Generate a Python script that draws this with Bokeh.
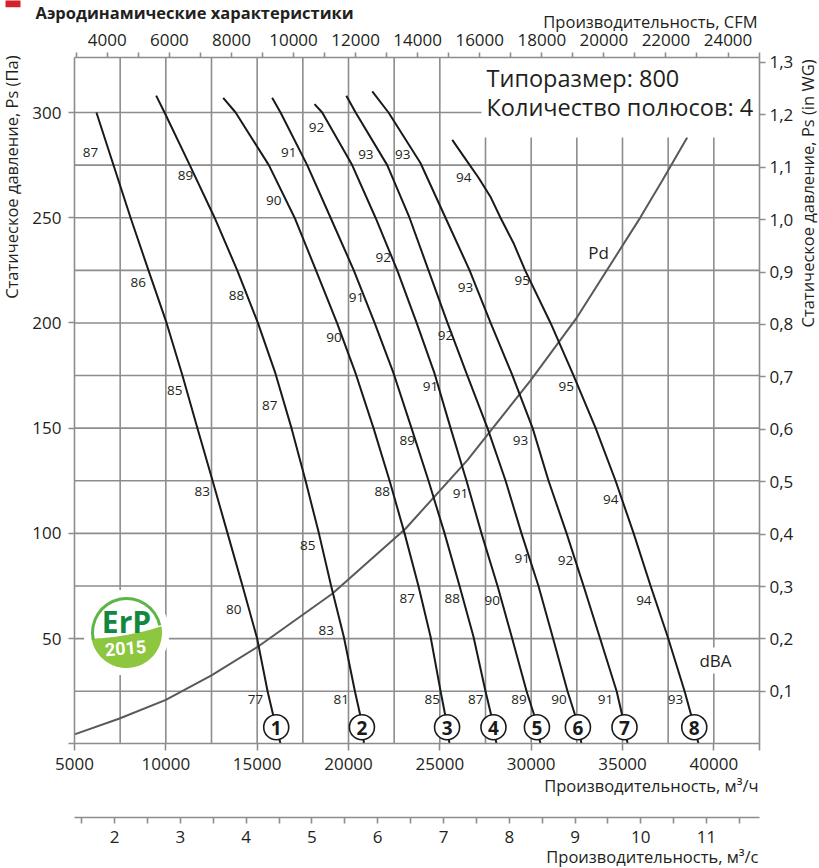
import numpy as np
from bokeh.plotting import figure
from bokeh.models import Range1d, LinearAxis, FixedTicker, Label
from bokeh.core.properties import value
from bokeh.embed import file_html
from bokeh.resources import INLINE

# ---------------- data ----------------
flow_ticks = [5000, 10000, 15000, 20000, 25000, 30000, 35000, 40000, 42500]
flow_grid = [7500, 10000, 12500, 15000, 17500, 20000, 22500, 25000, 27500,
             30000, 32500, 35000, 37500, 40000]
pa_ticks = [0, 50, 100, 150, 200, 250, 300]
pa_grid = [25, 50, 75, 100, 125, 150, 175, 200, 225, 250, 275, 300]
cfm_ticks = [4000, 6000, 8000, 10000, 12000, 14000, 16000, 18000, 20000, 22000, 24000]
cfm_minor = [3000, 5000, 7000, 9000, 11000, 13000, 15000, 17000, 19000, 21000, 23000, 25000]
m3s_ticks = [2, 3, 4, 5, 6, 7, 8, 9, 10, 11]
m3s_minor = [1.5, 2.5, 3.5, 4.5, 5.5, 6.5, 7.5, 8.5, 9.5, 10.5, 11.5]
inwg_ticks = [0.1, 0.2, 0.3, 0.4, 0.5, 0.6, 0.7, 0.8, 0.9, 1.0, 1.1, 1.2, 1.3]
inwg_labels = ["0,1", "0,2", "0,3", "0,4", "0,5", "0,6", "0,7", "0,8", "0,9",
               "1,0", "1,1", "1,2", "1,3"]

c1_flow = [6200, 8070, 9050, 10040, 10910, 11730, 12560, 13380, 14200, 15000, 15570, 15920, 16280]
c1_pa = [300, 250, 225, 200, 175, 150, 125, 100, 75, 50, 25, 12, 0]
c2_flow = [9470, 9930, 11310, 12670, 13910, 15040, 16000, 16880, 17650, 18380, 19050, 19740, 20350, 20660, 20850]
c2_pa = [308, 300, 275, 250, 225, 200, 176, 150, 125, 100, 75, 51, 25, 13, 0]
c3_flow = [13140, 13820, 15640, 17050, 18220, 19370, 20390, 21370, 22250, 23070, 23830, 24490, 25040, 25310, 25530]
c3_pa = [307, 300, 275, 250, 225, 200, 176, 150, 125, 100, 75, 51, 25, 13, 0]
c4_flow = [15820, 16280, 17740, 19020, 20290, 21430, 22470, 23450, 24380, 25260, 26080, 26840, 27500, 27830, 28100]
c4_pa = [307, 300, 275, 250, 225, 200, 176, 150, 125, 100, 75, 51, 25, 13, 0]
c5_flow = [18140, 18560, 20200, 21480, 22670, 23730, 24710, 25590, 26460, 27280, 28160, 28930, 29750, 30190, 30510]
c5_pa = [304, 300, 275, 250, 225, 200, 176, 150, 125, 100, 75, 51, 25, 13, 0]
c6_flow = [19880, 20390, 22120, 23340, 24380, 25420, 26460, 27610, 28600, 29470, 30400, 31170, 31990, 32430, 32760]
c6_pa = [308, 300, 275, 250, 225, 200, 176, 150, 125, 100, 75, 51, 25, 13, 0]
c7_flow = [21300, 22190, 23940, 25310, 26630, 27780, 28930, 30080, 30950, 31940, 32870, 33740, 34680, 35000, 35280]
c7_pa = [310, 300, 276, 250, 225, 200, 176, 150, 125, 100, 75, 51, 25, 13, 0]
c8_flow = [25680, 26400, 27120, 27770, 28320, 29030, 29670, 31060, 32270, 33530, 34620, 35610, 36540, 37470, 38400, 38780, 39160]
c8_pa = [287, 278, 269, 260, 250, 238, 225, 200, 176, 150, 125, 100, 75, 51, 25, 13, 0]

pd_flow = [5000, 7430, 10000, 12500, 15000, 19110, 23120, 26500, 29970, 32520, 35990, 37180, 38550]
pd_pa = [4.5, 11.9, 20.9, 32.5, 45.9, 71.3, 102.2, 134.7, 172.7, 202.8, 250.3, 267.7, 288.3]

# dBA values along the curves (flow, pressure, level)
c1_db_flow = [5880, 8490, 10490, 11990, 13720, 14910]
c1_db_pa = [281, 219, 168, 120, 64, 21]
c1_db = ["87", "86", "85", "83", "80", "77"]
c2_db_flow = [11080, 13870, 15690, 17770, 18780, 19600]
c2_db_pa = [270, 213, 161, 94, 54, 21]
c2_db = ["89", "88", "87", "85", "83", "81"]
c3_db_flow = [15910, 19200, 21850, 23220, 24580]
c3_db_pa = [258, 193, 120, 69, 21]
c3_db = ["90", "90", "88", "87", "85"]
c4_db_flow = [16730, 20440, 23220, 25680, 26960]
c4_db_pa = [281, 212, 144, 69, 21]
c4_db = ["91", "91", "89", "88", "87"]
c5_db_flow = [18250, 21900, 24490, 26130, 27870, 29330]
c5_db_pa = [293, 231, 170, 119, 68, 21]
c5_db = ["92", "92", "91", "91", "90", "89"]
c6_db_flow = [20950, 25310, 29510, 31520]
c6_db_pa = [280, 194, 88, 21]
c6_db = ["93", "92", "91", "90"]
c7_db_flow = [22970, 26410, 29420, 31880, 34070]
c7_db_pa = [280, 217, 144, 87, 21]
c7_db = ["93", "93", "93", "92", "91"]
c8_db_flow = [26310, 29510, 31920, 34350, 36170, 37900]
c8_db_pa = [269, 220, 170, 116, 68, 21]
c8_db = ["94", "95", "95", "94", "94", "93"]

curve_ids = ["1", "2", "3", "4", "5", "6", "7", "8"]
marker_pa = 7.9

# ---------------- layout constants ----------------
GRID = "#8d8d8d"
INK = "#231f20"
FONT = "Open Sans"
X0, X1 = 5000, 42500          # plotted flow span (m3/h)
Y0, Y1 = 0, 326               # plotted pressure span (Pa)
W, H = 819, 868               # canvas
PX_L, PX_R = 74, 759          # canvas x of X0, X1
PX_B, PX_T = 743.3, 57.3      # canvas y of Y0, Y1
M3H_PER_CFM = 1.69901
PA_PER_INWG = 249.089
SX = (X1 - X0) / (PX_R - PX_L)
SY = (Y1 - Y0) / (PX_B - PX_T)


def fx(px):
    return X0 + (px - PX_L) * SX


def fy(py):
    return Y0 + (PX_B - py) * SY


XR = (fx(0), fx(W))
YR = (fy(H), fy(0))

p = figure(x_range=Range1d(*XR), y_range=Range1d(*YR), width=W, height=H,
           min_border=0, min_border_left=0, min_border_right=0,
           min_border_top=0, min_border_bottom=0,
           output_backend="svg", toolbar_location=None, title=None)
p.outline_line_color = None
p.background_fill_color = "white"
p.border_fill_color = "white"
p.xgrid.visible = False
p.ygrid.visible = False

p.extra_x_ranges = {"cfm": Range1d(XR[0] / M3H_PER_CFM, XR[1] / M3H_PER_CFM),
                    "m3s": Range1d(XR[0] / 3600, XR[1] / 3600)}
p.extra_y_ranges = {"inwg": Range1d(YR[0] / PA_PER_INWG, YR[1] / PA_PER_INWG)}


def style(ax, tick_out, standoff):
    ax.axis_line_color = GRID
    ax.axis_line_width = 1.6
    ax.major_tick_line_color = GRID
    ax.major_tick_line_width = 1.6
    ax.minor_tick_line_color = GRID
    ax.minor_tick_line_width = 1.6
    ax.major_tick_in = 0
    ax.minor_tick_in = 0
    ax.major_tick_out = tick_out
    ax.minor_tick_out = tick_out
    ax.major_label_standoff = standoff
    ax.major_label_text_font = FONT
    ax.major_label_text_font_size = "17px"
    ax.major_label_text_color = INK


xb = p.below[0]
xb.ticker = FixedTicker(ticks=flow_ticks, minor_ticks=[])
xb.major_label_overrides = {42500: ""}
xb.fixed_location = Y0
xb.bounds = (X0, X1)
style(xb, 7, 7)

yl = p.left[0]
yl.ticker = FixedTicker(ticks=pa_ticks, minor_ticks=[])
yl.major_label_overrides = {0: ""}
yl.fixed_location = X0
yl.bounds = (Y0, Y1)
style(yl, 6, 7)

xt = LinearAxis(x_range_name="cfm", fixed_location=Y1,
                bounds=(X0 / M3H_PER_CFM, X1 / M3H_PER_CFM))
xt.ticker = FixedTicker(ticks=cfm_ticks, minor_ticks=cfm_minor)
style(xt, 5, 7)
p.add_layout(xt, "above")

yr = LinearAxis(y_range_name="inwg", fixed_location=X1,
                bounds=(Y0 / PA_PER_INWG, Y1 / PA_PER_INWG))
yr.ticker = FixedTicker(ticks=inwg_ticks, minor_ticks=[])
yr.major_label_overrides = dict(zip(inwg_ticks, inwg_labels))
style(yr, 6, 4)
p.add_layout(yr, "right")

xs = LinearAxis(x_range_name="m3s", fixed_location=fy(817),
                bounds=(X0 / 3600, X1 / 3600))
xs.ticker = FixedTicker(ticks=m3s_ticks, minor_ticks=m3s_minor)
style(xs, 6, 7)
p.add_layout(xs, "below")

# grid lines inside the plotting area
p.segment(x0=flow_grid, y0=[Y0] * len(flow_grid), x1=flow_grid, y1=[Y1] * len(flow_grid),
          line_color=GRID, line_width=1.6)
p.segment(x0=[X0] * len(pa_grid), y0=pa_grid, x1=[X1] * len(pa_grid), y1=pa_grid,
          line_color=GRID, line_width=1.6)

# ---------------- ErP logo ----------------
lx, ly = fx(126), fy(632)
R = 35.5
p.scatter([lx], [ly], marker="circle", size=86, fill_color="white", line_color=None)
ang = np.radians(np.linspace(190, 370, 60))
arc_x = R * np.cos(ang)
arc_y = R * np.sin(ang)
t = np.linspace(0, 1, 30)
p0 = np.array([arc_x[-1], arc_y[-1]])
p2 = np.array([arc_x[0], arc_y[0]])
c = np.array([0.0, -5.0])
bz_x = (1 - t) ** 2 * p0[0] + 2 * (1 - t) * t * c[0] + t ** 2 * p2[0]
bz_y = (1 - t) ** 2 * p0[1] + 2 * (1 - t) * t * c[1] + t ** 2 * p2[1]
leaf_x = lx + np.concatenate([arc_x, bz_x]) * SX
leaf_y = ly + np.concatenate([arc_y, bz_y]) * SY
p.patch(leaf_x, leaf_y, fill_color="#8dc63f", line_color=None)
p.annular_wedge(x=[lx], y=[ly], inner_radius=R - 3, outer_radius=R,
                inner_radius_units="screen", outer_radius_units="screen",
                start_angle=np.radians(12), end_angle=np.radians(192),
                fill_color="#5cb646", line_color=None)
p.text(x=[fx(126)], y=[fy(621)], text=["ErP"], text_font=value(FONT),
       text_font_style="bold", text_font_size="30px", text_color="#13873f",
       text_align="center", text_baseline="middle")
p.text(x=[fx(125)], y=[fy(647.5)], text=["2015"], text_font=value("Roboto"),
       text_font_style="bold", text_font_size="18px", text_color="white", angle=0.08,
       text_align="center", text_baseline="middle")

# ---------------- curves ----------------
curves = [(c1_flow, c1_pa), (c2_flow, c2_pa), (c3_flow, c3_pa), (c4_flow, c4_pa),
          (c5_flow, c5_pa), (c6_flow, c6_pa), (c7_flow, c7_pa), (c8_flow, c8_pa)]
db_sets = [(c1_db_flow, c1_db_pa, c1_db), (c2_db_flow, c2_db_pa, c2_db),
           (c3_db_flow, c3_db_pa, c3_db), (c4_db_flow, c4_db_pa, c4_db),
           (c5_db_flow, c5_db_pa, c5_db), (c6_db_flow, c6_db_pa, c6_db),
           (c7_db_flow, c7_db_pa, c7_db), (c8_db_flow, c8_db_pa, c8_db)]

p.line(pd_flow, pd_pa, line_color="#58595b", line_width=2)
for fl, pa in curves:
    p.line(fl, pa, line_color="#1a1a1a", line_width=2)

for fl, pa, txt in db_sets:
    p.text(x=fl, y=pa, text=txt, text_font=value(FONT), text_font_size="13.5px",
           text_color=INK, text_align="center", text_baseline="middle")

mk_x = [float(np.interp(marker_pa, pa[::-1], fl[::-1])) for fl, pa in curves]
mk_y = [marker_pa] * len(curves)
p.scatter(mk_x, mk_y, marker="circle", size=25, fill_color="white",
          line_color="#1a1a1a", line_width=1.6)
p.text(x=mk_x, y=mk_y, text=curve_ids, text_font=value(FONT), text_font_style="bold",
       text_font_size="19px", text_color="#1a1a1a", text_align="center",
       text_baseline="middle", y_offset=1)

# text box
p.quad(left=[fx(481)], right=[X1], bottom=[fy(137)], top=[Y1],
       fill_color="white", line_color=None)


def label(px, py, text, size, align="left", angle=0.0, style="normal"):
    p.add_layout(Label(x=fx(px), y=fy(py), text=text, text_font=FONT,
                       text_font_size=size, text_font_style=style, text_color=INK,
                       text_align=align, text_baseline="middle", angle=angle))


label(486, 77, "Типоразмер: 800", "23.5px")
label(486, 106.5, "Количество полюсов: 4", "23.5px")

# Pd and dBA
label(598, 251.7, "Pd", "17px", align="center")
p.rect(x=[fx(715)], y=[fy(660)], width=46, height=26, width_units="screen",
       height_units="screen", fill_color="white", line_color=None)
label(715, 660, "dBA", "17px", align="center")

# axis titles
label(757, 21, "Производительность, CFM", "16.5px", align="right")
label(758, 785, "Производительность, м³/ч", "16.5px", align="right")
label(758, 856, "Производительность, м³/с", "16.5px", align="right")
label(11, 55, "Статическое давление, Ps (Па)", "16.5px", align="right", angle=np.pi / 2)
label(807, 59, "Статическое давление, Ps (in WG)", "16.5px", align="right", angle=np.pi / 2)

# heading
p.quad(left=[fx(5)], right=[fx(20)], bottom=[fy(6.7)], top=[fy(-9)],
       fill_color="#d7202a", line_color=None)
label(35, 11.5, "Аэродинамические характеристики", "16.5px", style="bold")

open("out.html", "w").write(file_html(p, INLINE))
